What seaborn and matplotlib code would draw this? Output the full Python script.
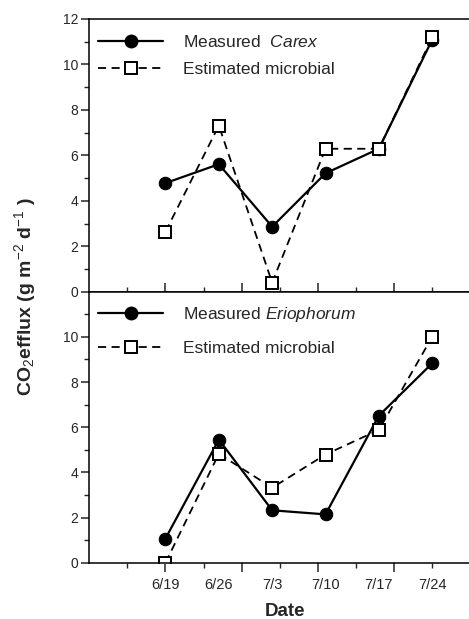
import matplotlib
matplotlib.use("Agg")
import matplotlib.pyplot as plt
import seaborn as sns
from matplotlib.lines import Line2D

# sampling dates (day of year) and their labels
days = [170, 177, 184, 191, 198, 205]
date_labels = ["6/19", "6/26", "7/3", "7/10", "7/17", "7/24"]

# CO2 efflux, g m-2 d-1
carex_measured = [4.78, 5.61, 2.86, 5.21, 6.29, 11.09]
carex_microbial = [2.64, 7.31, 0.40, 6.29, 6.29, 11.19]
erio_measured = [1.07, 5.45, 2.32, 2.14, 6.51, 8.83]
erio_microbial = [0.00, 4.82, 3.32, 4.79, 5.88, 10.00]

sns.set_theme(style="ticks")
plt.rcParams["font.family"] = ["Liberation Sans", "DejaVu Sans"]
plt.rcParams["mathtext.fontset"] = "custom"
plt.rcParams["mathtext.rm"] = "Liberation Sans"
plt.rcParams["mathtext.it"] = "Liberation Sans:italic"
plt.rcParams["mathtext.bf"] = "Liberation Sans:bold"

fig = plt.figure(figsize=(4.69, 6.19), dpi=100)
W, H = 469, 619
left = 89.3 / W
width = (215 - 160) * 7.62 / W
ax1 = fig.add_axes([left, 1 - 291.7 / H, width, (291.7 - 19) / H])
ax2 = fig.add_axes([left, 1 - 562.7 / H, width, (562.7 - 291.7) / H])


def draw(ax, measured, microbial, name, spacing, ytop, xdir):
    sns.lineplot(x=days, y=measured, ax=ax, color="black", lw=1.6,
                 marker="o", markersize=9, markeredgecolor="black")
    sns.lineplot(x=days, y=microbial, ax=ax, color="black", lw=1.3,
                 linestyle=(0, (4.5, 3)), marker="s", markersize=8.5,
                 markerfacecolor="white", markeredgecolor="black",
                 markeredgewidth=1.4)
    ax.set_xlim(160, 215)
    ax.set_ylim(0, 12)
    for s in ax.spines.values():
        s.set_linewidth(1.1)
        s.set_color("black")
    ax.spines["right"].set_visible(False)
    ax.set_yticks(range(0, 13, 2))
    ax.set_yticks(range(1, 12, 2), minor=True)
    ax.tick_params(axis="y", which="major", direction="out", length=6,
                   width=1.1, labelsize=10, pad=2)
    ax.tick_params(axis="y", which="minor", direction="out", length=3.5,
                   width=1.0)
    # 5-day tick marks
    ax.set_xticks(range(170, 215, 10))
    ax.set_xticks(range(165, 215, 10), minor=True)
    ax.tick_params(axis="x", which="major", direction=xdir, length=6.5,
                   width=1.1, labelbottom=False)
    ax.tick_params(axis="x", which="minor", direction=xdir, length=3.5,
                   width=1.0)
    handles = [
        Line2D([], [], color="black", lw=1.6, marker="o", markersize=9),
        Line2D([], [], color="black", lw=1.3, linestyle=(0, (4.5, 3)),
               marker="s", markersize=8.5, markerfacecolor="white",
               markeredgewidth=1.4),
    ]
    ax.legend(handles, [name, "Estimated microbial"], loc="upper left",
              frameon=False, fontsize=12.5, handlelength=3.75,
              handletextpad=1.15, labelspacing=spacing,
              bbox_to_anchor=(0.005, ytop), borderaxespad=0.0)


draw(ax1, carex_measured, carex_microbial,
     r"Measured  $\mathit{Carex}$", 0.7, 0.97, "in")
draw(ax2, erio_measured, erio_microbial,
     r"Measured $\mathit{Eriophorum}$", 1.0, 0.978, "out")

ax2.set_yticks(range(0, 11, 2))
ax2.set_yticks(range(1, 12, 2), minor=True)

# date labels sit under the sampling days
sec = ax2.secondary_xaxis("bottom")
sec.set_xticks(days, date_labels)
sec.tick_params(axis="x", length=0, labelsize=10.5, pad=11)
sec.spines["bottom"].set_visible(False)

fig.text(285 / W, 1 - 611 / H, "Date", ha="center", va="center",
         fontsize=13.5, fontweight="bold")
fig.text(25 / W, 1 - 297 / H, r"CO$_2$efflux (g m$^{-2}$ d$^{-1}$ )",
         rotation=90, ha="center", va="center", fontsize=14,
         fontweight="bold")

fig.savefig("out.png", dpi=100)
